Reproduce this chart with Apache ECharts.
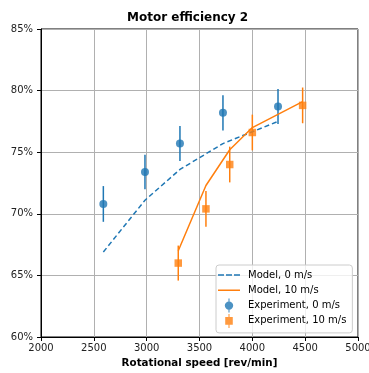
<!DOCTYPE html>
<html>
<head>
<meta charset="utf-8">
<script src="https://cdn.jsdelivr.net/npm/echarts@6/dist/echarts.min.js"></script>
<style>
html, body { margin: 0; padding: 0; background: #fff; }
#main { width: 369px; height: 373px; }
</style>
</head>
<body>
<div id="main"></div>
<script>
// model curves
var model0X = [2590, 2984, 3315, 3722, 4243];
var model0Y = [66.9, 71.1, 73.6, 75.7, 77.5];
var model10X = [3299, 3561, 3786, 4000, 4476];
var model10Y = [67.0, 72.3, 75.2, 77.0, 79.1];

// measurements, error is +/- in percent
var exp0X = [2590, 2984, 3315, 3722, 4243];
var exp0Y = [70.8, 73.4, 75.7, 78.2, 78.7];
var exp0Err = [1.45, 1.4, 1.42, 1.43, 1.42];
var exp10X = [3299, 3561, 3786, 4000, 4476];
var exp10Y = [66.0, 70.4, 74.0, 76.6, 78.8];
var exp10Err = [1.42, 1.45, 1.45, 1.45, 1.45];

var xTicks = [2000, 2500, 3000, 3500, 4000, 4500, 5000];
var yTicks = [60, 65, 70, 75, 80, 85];

var BLUE = '#1f77b4', ORANGE = '#ff7f0e';
var FONT = 'DejaVu Sans';

function pairs(xs, ys) {
	var out = [];
	for (var i = 0; i < xs.length; i++) out.push([xs[i], ys[i]]);
	return out;
}
function errs(xs, ys, es) {
	var out = [];
	for (var i = 0; i < xs.length; i++) out.push([xs[i], ys[i] - es[i], ys[i] + es[i]]);
	return out;
}
function errRender(color) {
	return function (params, api) {
		var p1 = api.coord([api.value(0), api.value(1)]);
		var p2 = api.coord([api.value(0), api.value(2)]);
		return {
			type: 'line',
			shape: { x1: p1[0], y1: p1[1], x2: p2[0], y2: p2[1] },
			style: { stroke: color, lineWidth: 1.5 }
		};
	};
}

// legend icons (matplotlib-like handles); tiny corner dots keep the 22x14 box
var box = 'M0,0H0.01V0.01H0Z M21.99,13.99H22V14H21.99Z ';
var iconDash = 'path://' + box + 'M0,6.25H6V7.75H0Z M8,6.25H14V7.75H8Z M16,6.25H22V7.75H16Z';
var iconSolid = 'path://' + box + 'M0,6.25H22V7.75H0Z';
var iconCircle = 'path://M9.2,0H10.8V4H9.2Z M9.2,16H10.8V20H9.2Z M4,10a6,6 0 1,0 12,0a6,6 0 1,0 -12,0Z';
var iconSquare = 'path://M9.2,0H10.8V4.6H9.2Z M9.2,15.4H10.8V20H9.2Z M4.6,4.6H15.4V15.4H4.6Z';

var opt = {
	animation: false,
	title: {
		text: 'Motor efficiency 2',
		left: 122, top: 7,
		textStyle: { fontFamily: FONT, fontSize: 12, fontWeight: 'bold', color: '#000' }
	},
	grid: {
		left: 41, right: 11, top: 29, bottom: 36,
		containLabel: false, outerBoundsMode: 'none',
		show: true, borderColor: '#000', borderWidth: 1
	},
	legend: {
		orient: 'vertical',
		left: 216, top: 265,
		padding: [3, 6, 5, 2],
		itemGap: 1.3,
		itemWidth: 22, itemHeight: 14,
		backgroundColor: 'rgba(255,255,255,0.8)',
		borderColor: '#ccc', borderWidth: 1, borderRadius: 3,
		textStyle: { fontFamily: FONT, fontSize: 10, color: '#000', padding: [0, 0, 0, 3] },
		data: [
			{ name: 'Model, 0 m/s', icon: iconDash },
			{ name: 'Model, 10 m/s', icon: iconSolid },
			{ name: 'Experiment, 0 m/s', icon: iconCircle },
			{ name: 'Experiment, 10 m/s', icon: iconSquare }
		]
	},
	xAxis: {
		type: 'value',
		min: xTicks[0], max: xTicks[xTicks.length - 1], interval: 500,
		name: 'Rotational speed [rev/min]',
		nameLocation: 'middle', nameGap: 21,
		nameTextStyle: { fontFamily: FONT, fontSize: 10.3, fontWeight: 'bold', color: '#000' },
		axisLine: { lineStyle: { color: '#000' } },
		axisTick: { show: true, length: 4, lineStyle: { color: '#000' } },
		axisLabel: {
			fontFamily: FONT, fontSize: 10, color: '#222', margin: 6,
			formatter: function (v) { return String(v); }
		},
		splitLine: { show: true, lineStyle: { color: '#b0b0b0', width: 1 } }
	},
	yAxis: {
		type: 'value',
		min: yTicks[0], max: yTicks[yTicks.length - 1], interval: 5,
		axisLine: { show: true, lineStyle: { color: '#000' } },
		axisTick: { show: true, length: 4, lineStyle: { color: '#000' } },
		axisLabel: { fontFamily: FONT, fontSize: 10, color: '#222', margin: 8, formatter: '{value}%' },
		splitLine: { show: true, lineStyle: { color: '#b0b0b0', width: 1 } }
	},
	series: [
		{
			name: 'Model, 0 m/s', type: 'line', data: pairs(model0X, model0Y),
			symbol: 'none', color: BLUE,
			lineStyle: { color: BLUE, width: 1.5, type: [5, 3] }
		},
		{
			name: 'Model, 10 m/s', type: 'line', data: pairs(model10X, model10Y),
			symbol: 'none', color: ORANGE,
			lineStyle: { color: ORANGE, width: 1.5 }
		},
		{
			name: 'err0', type: 'custom', data: errs(exp0X, exp0Y, exp0Err),
			renderItem: errRender(BLUE), z: 3
		},
		{
			name: 'err10', type: 'custom', data: errs(exp10X, exp10Y, exp10Err),
			renderItem: errRender(ORANGE), z: 3
		},
		{
			name: 'Experiment, 0 m/s', type: 'scatter', data: pairs(exp0X, exp0Y),
			symbol: 'circle', symbolSize: 8, color: BLUE, z: 4
		},
		{
			name: 'Experiment, 10 m/s', type: 'scatter', data: pairs(exp10X, exp10Y),
			symbol: 'rect', symbolSize: 7.5, color: ORANGE, z: 4
		}
	]
};

var chart = echarts.init(document.getElementById('main'));
chart.setOption(opt);
</script>
</body>
</html>
